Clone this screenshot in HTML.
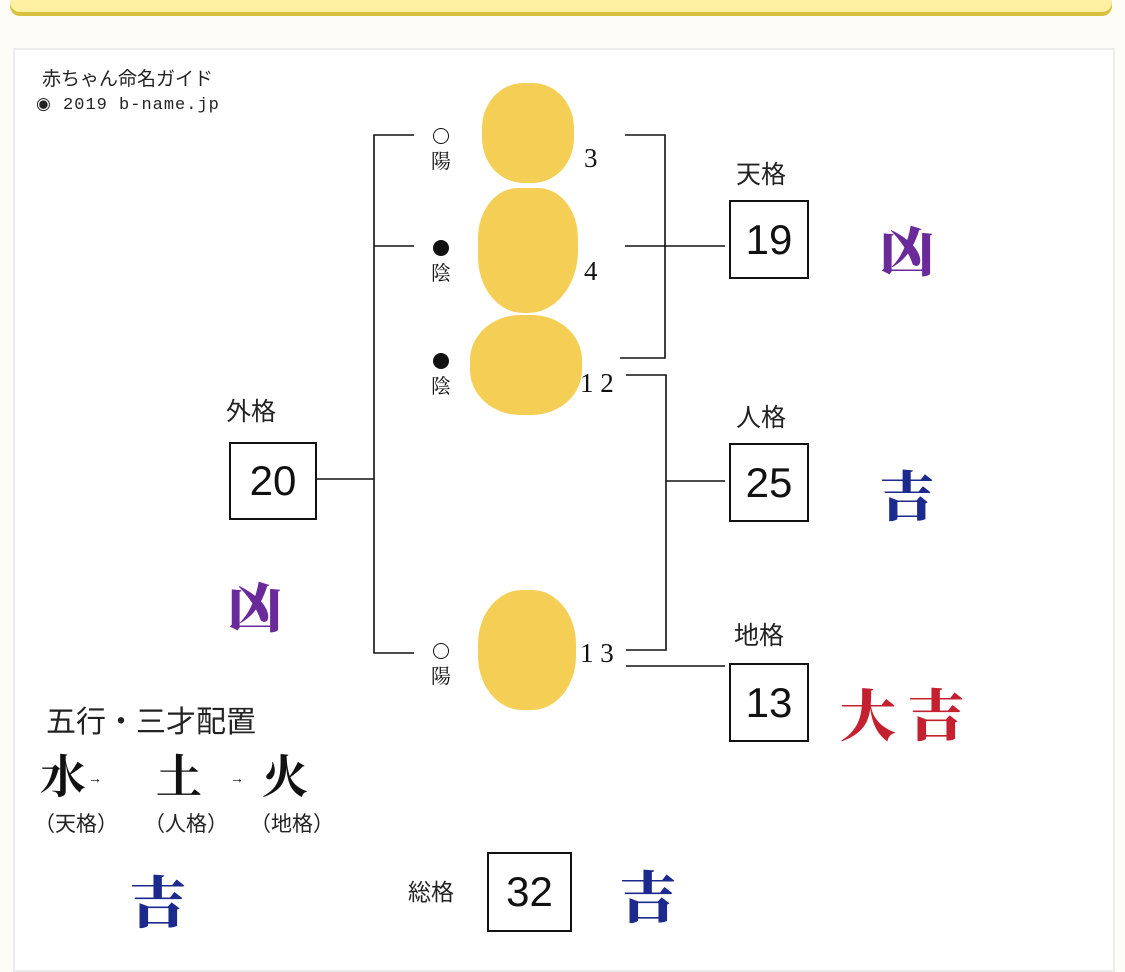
<!DOCTYPE html>
<html><head><meta charset="utf-8"><style>
body{margin:0;width:1125px;height:956px;background:#fdfcf6;position:relative;overflow:hidden;font-family:"Liberation Sans","Noto Sans CJK JP",sans-serif;}
.a{position:absolute;}
.bar{left:10px;top:-10px;width:1102px;height:22px;background:#fdf0a0;border-radius:0 0 10px 10px;box-shadow:0 4px 0 #d8c040;}
.panel{left:13px;top:48px;width:1098px;height:920px;background:#fff;border:2px solid #ececec;}
.box{position:absolute;border:2px solid #111;background:#fff;font-size:42px;text-align:center;color:#111;font-family:"Liberation Sans",sans-serif;}
.lbl{position:absolute;font-size:25px;color:#222;}
.ser{font-family:"Liberation Serif","Noto Serif CJK SC",serif;color:#111;}
.blob{position:absolute;background:#f5cf55;border-radius:45%;}
.yin{position:absolute;font-size:20px;line-height:24px;text-align:center;width:26px;font-family:"Liberation Serif","Noto Serif CJK SC",serif;color:#111;}
.c{display:inline-block;width:16px;height:16px;border-radius:50%;border:1.5px solid #111;box-sizing:border-box;}
.c.f{background:#111;}
.fort{position:absolute;font-family:"Noto Serif CJK SC",serif;font-weight:900;}
.num{position:absolute;font-family:"Liberation Serif",serif;font-size:27px;color:#111;}
</style></head><body>
<div class="a bar"></div>
<div class="a panel"></div>
<div class="a" style="left:42px;top:64px;font-size:19px;color:#222;">赤ちゃん命名ガイド</div>
<div class="a" style="left:36px;top:94px;font-size:17px;color:#222;font-family:'Liberation Mono',monospace;transform:scaleX(1.0);letter-spacing:1px;">&#9673; 2019 b-name.jp</div>

<svg class="a" style="left:0;top:0" width="1125" height="956">
<g stroke="#111" stroke-width="1.6" fill="none">
<path d="M414 135H374V653H414M374 246H414M316 479H374"/>
<path d="M625 135H665V358H620M625 246H725"/>
<path d="M626 375H666V650H626M666 481H725M626 666H725"/>
</g></svg>

<div class="blob" style="left:482px;top:83px;width:92px;height:100px;"></div>
<div class="blob" style="left:478px;top:188px;width:100px;height:125px;border-radius:40% 40% 50% 45%;"></div>
<div class="blob" style="left:470px;top:315px;width:112px;height:100px;"></div>
<div class="blob" style="left:478px;top:590px;width:98px;height:120px;"></div>

<div class="yin" style="left:428px;top:126px;"><span class="c"></span><br>陽</div>
<div class="yin" style="left:428px;top:238px;"><span class="c f"></span><br>陰</div>
<div class="yin" style="left:428px;top:351px;"><span class="c f"></span><br>陰</div>
<div class="yin" style="left:428px;top:641px;"><span class="c"></span><br>陽</div>
<div class="num" style="left:584px;top:143px;">3</div>
<div class="num" style="left:584px;top:256px;">4</div>
<div class="num" style="left:580px;top:368px;">1 2</div>
<div class="num" style="left:580px;top:638px;">1 3</div>

<div class="lbl" style="left:226px;top:392px;">外格</div>
<div class="box" style="left:229px;top:442px;width:84px;height:74px;line-height:74px;">20</div>
<div class="lbl" style="left:736px;top:155px;">天格</div>
<div class="box" style="left:729px;top:200px;width:76px;height:75px;line-height:75px;">19</div>
<div class="lbl" style="left:736px;top:398px;">人格</div>
<div class="box" style="left:729px;top:443px;width:76px;height:75px;line-height:75px;">25</div>
<div class="lbl" style="left:734px;top:616px;">地格</div>
<div class="box" style="left:729px;top:663px;width:76px;height:75px;line-height:75px;">13</div>
<div class="lbl" style="left:408px;top:873px;font-size:23px;">総格</div>
<div class="box" style="left:487px;top:852px;width:81px;height:76px;line-height:76px;">32</div>

<div class="fort" style="left:880px;top:210px;font-size:54px;color:#6a2a9a;">凶</div>
<div class="fort" style="left:228px;top:566px;font-size:54px;color:#6a2a9a;">凶</div>
<div class="fort" style="left:880px;top:455px;font-size:54px;color:#1c2a8e;">吉</div>
<div class="fort" style="left:840px;top:673px;font-size:56px;color:#c42030;letter-spacing:12px;">大吉</div>
<div class="fort" style="left:130px;top:860px;font-size:56px;color:#1c2a8e;">吉</div>
<div class="fort" style="left:620px;top:855px;font-size:56px;color:#1c2a8e;">吉</div>

<div class="a" style="left:46px;top:697px;font-size:30px;color:#222;">五行・三才配置</div>
<div class="a ser" style="left:40px;top:752px;font-size:46px;font-weight:bold;line-height:52px;">水</div>
<div class="a" style="left:88px;top:770px;font-size:14px;">→</div>
<div class="a ser" style="left:156px;top:752px;font-size:46px;font-weight:bold;line-height:52px;">土</div>
<div class="a" style="left:230px;top:770px;font-size:14px;">→</div>
<div class="a ser" style="left:262px;top:752px;font-size:46px;font-weight:bold;line-height:52px;">火</div>
<div class="a" style="left:34px;top:808px;font-size:21px;color:#222;">（天格）</div>
<div class="a" style="left:144px;top:808px;font-size:21px;color:#222;">（人格）</div>
<div class="a" style="left:250px;top:808px;font-size:21px;color:#222;">（地格）</div>
</body></html>
